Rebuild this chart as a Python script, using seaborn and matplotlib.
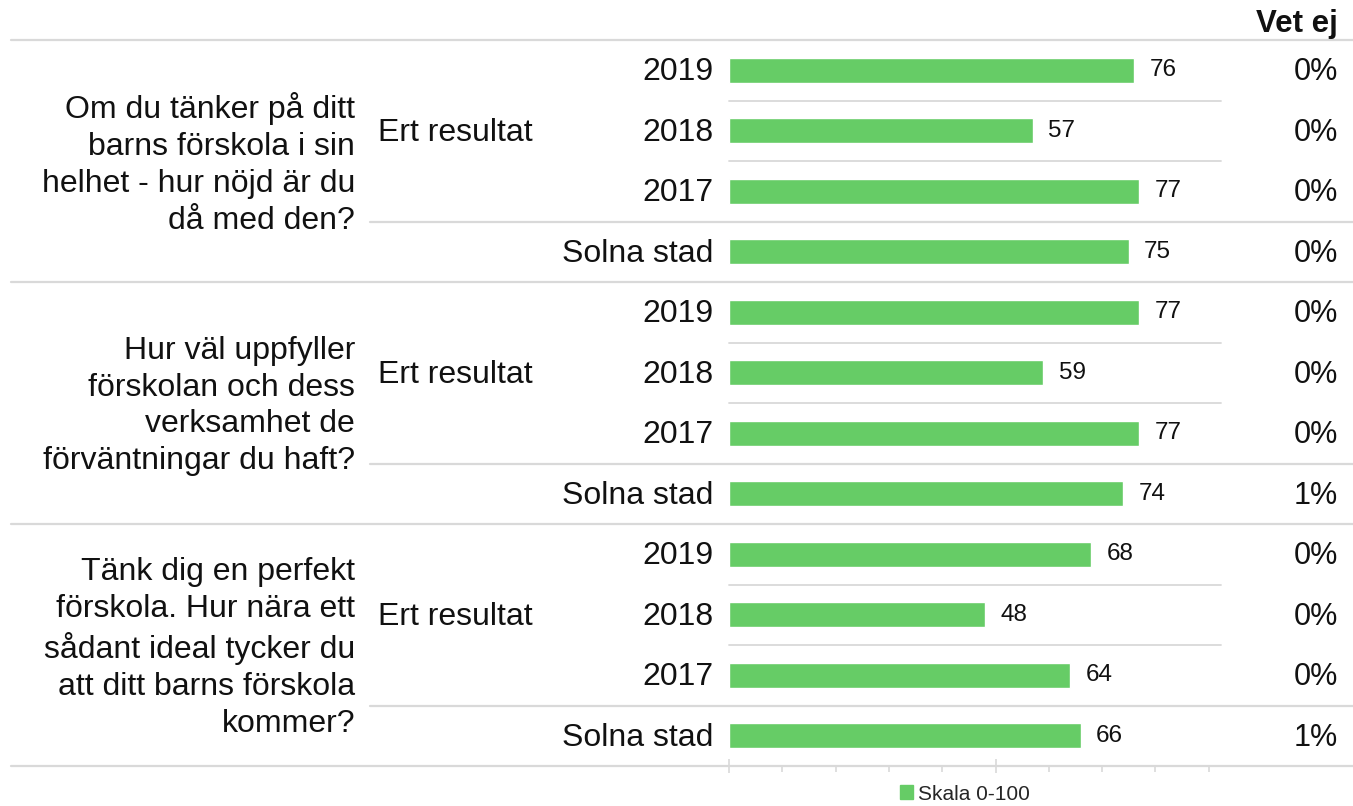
import matplotlib
matplotlib.use("Agg")
import matplotlib.pyplot as plt
from matplotlib.patches import Patch
from matplotlib.transforms import blended_transform_factory
import pandas as pd
import seaborn as sns

questions = [
    "Om du tänker på ditt\nbarns förskola i sin\nhelhet - hur nöjd är du\ndå med den?",
    "Hur väl uppfyller\nförskolan och dess\nverksamhet de\nförväntningar du haft?",
    "Tänk dig en perfekt\nförskola. Hur nära ett\nsådant ideal tycker du\natt ditt barns förskola\nkommer?",
]
years = ["2019", "2018", "2017"]
ert_resultat = [[76, 57, 77], [77, 59, 77], [68, 48, 64]]
solna_stad = [75, 74, 66]
vet_ej = [[0, 0, 0, 0], [0, 0, 0, 1], [0, 0, 0, 1]]

GREEN = "#66cc66"
GRID = "#d9d9d9"

sns.set_theme(style="white")
plt.rcParams["font.family"] = ["Liberation Sans", "DejaVu Sans"]

rows = []
for q in range(len(questions)):
    for y, v in zip(years, ert_resultat[q]):
        rows.append({"key": f"{q}-{y}", "label": y, "value": v})
    rows.append({"key": f"{q}-solna", "label": "Solna stad", "value": solna_stad[q]})
df = pd.DataFrame(rows)

fig = plt.figure(figsize=(13.53, 8.06), dpi=100)
ax = fig.add_axes([729 / 1353, 1 - 766 / 806, 533 / 1353, 726 / 806])

sns.barplot(data=df, x="value", y="key", order=df["key"], color=GREEN,
            width=0.41, saturation=1, ax=ax, orient="h")
ax.bar_label(ax.containers[0], padding=11, fontsize=17.5, color="#111111")

ax.set_xlim(0, 100)
ax.set_ylim(len(df) - 0.5, -0.5)
ax.set_xlabel("")
ax.set_ylabel("")
ax.set_yticks([])
for s in ax.spines.values():
    s.set_visible(False)

# axis ticks
ax.set_xticks([0, 50])
ax.set_xticks([10, 20, 30, 40, 60, 70, 80, 90], minor=True)
ax.tick_params(axis="x", which="major", direction="inout", length=10, width=1.2,
               color=GRID, labelbottom=False, bottom=True)
ax.tick_params(axis="x", which="minor", direction="out", length=4, width=1.2,
               color=GRID, bottom=True)

# separator lines
full_l, full_r = (11 - 729) / 533, (1353 - 729) / 533
mid_l = (370 - 729) / 533
inner_r = (1221 - 729) / 533
ax.axhline(-0.5, full_l, full_r, color=GRID, lw=1.6, clip_on=False)
for q in range(len(questions)):
    base = q * 4
    ax.axhline(base + 0.5, 0, inner_r, color=GRID, lw=1.3, clip_on=False)
    ax.axhline(base + 1.5, 0, inner_r, color=GRID, lw=1.3, clip_on=False)
    ax.axhline(base + 2.5, mid_l, full_r, color=GRID, lw=1.6, clip_on=False)
    ax.axhline(base + 3.5, full_l, full_r, color=GRID, lw=1.6, clip_on=False)

# text labels
tr = blended_transform_factory(fig.transFigure, ax.transData)
fs = 23
for q, question in enumerate(questions):
    base = q * 4
    ax.text(355 / 1353, base + 1.55, question, transform=tr, ha="right", va="center",
            fontsize=fs, linespacing=1.3, color="#111111")
    ax.text(378 / 1353, base + 1.03, "Ert resultat", transform=tr, ha="left",
            va="center", fontsize=fs, color="#111111")
    for i, lab in enumerate(years + ["Solna stad"]):
        ax.text(713 / 1353, base + i + 0.03, lab, transform=tr, ha="right",
                va="center", fontsize=fs, color="#111111")
        ax.text(1338 / 1353, base + i + 0.03, f"{vet_ej[q][i]}%", transform=tr,
                ha="right", va="center", fontsize=22, color="#111111")

fig.text(1338 / 1353, 1 - 24 / 806, "Vet ej", ha="right", va="center",
         fontsize=22.5, fontweight="bold", color="#111111")

fig.legend(handles=[Patch(color=GREEN, label="Skala 0-100")], loc="center",
           bbox_to_anchor=(965 / 1353, 1 - 794 / 806), frameon=False,
           fontsize=15, handlelength=0.62, handleheight=0.62, handletextpad=0.25,
           borderpad=0, borderaxespad=0)

fig.savefig("out.png", dpi=100)
